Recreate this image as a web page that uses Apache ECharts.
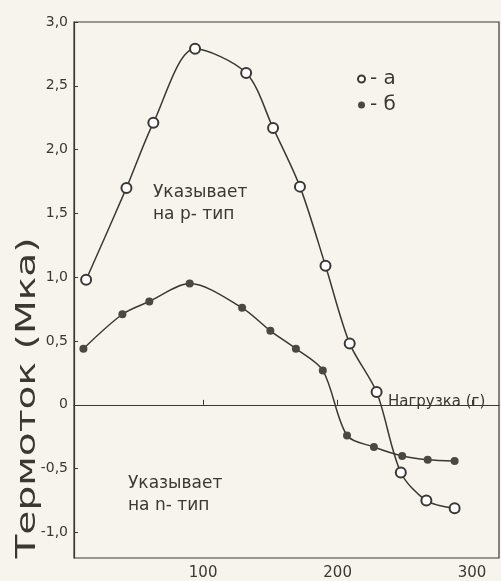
<!DOCTYPE html>
<html><head><meta charset="utf-8">
<script src="https://cdn.jsdelivr.net/npm/echarts@6/dist/echarts.min.js"></script>
<style>html,body{margin:0;padding:0;background:#f6f4ec;}#c{width:501px;height:581px;}</style>
</head><body><div id="c"></div>
<script>
// Series a (open circles): load (g), thermocurrent (μA)
const loadA = [13, 43, 63, 94, 132, 152, 172, 191, 209, 229, 247, 266, 287];
const currA = [0.98, 1.70, 2.21, 2.79, 2.60, 2.17, 1.71, 1.09, 0.48, 0.10, -0.53, -0.75, -0.81];
// Series б (filled circles)
const loadB = [11, 40, 60, 90, 129, 150, 169, 189, 207, 227, 248, 267, 287];
const currB = [0.44, 0.71, 0.81, 0.95, 0.76, 0.58, 0.44, 0.27, -0.24, -0.33, -0.40, -0.43, -0.44];
const yTicks = [-1.0, -0.5, 0, 0.5, 1.0, 1.5, 2.0, 2.5, 3.0];
const xTicks = [100, 200, 300];
const seriesNames = ['а', 'б'];

const ink = '#3a3833';
const font = 'DejaVu Sans';
const chart = echarts.init(document.getElementById('c'));
const fmtY = v => v === 0 ? '0' : v.toFixed(1).replace('.', ',');
chart.setOption({
  backgroundColor: '#f6f4ec',
  animation: false,
  grid: {left: 74, top: 22, right: 2, bottom: 4, show: true, borderColor: ink, borderWidth: 1.2},
  legend: {
    orient: 'vertical', left: 352, top: 64, itemGap: 6, itemWidth: 7, itemHeight: 7,
    data: [{name: seriesNames[0], icon: 'emptyCircle'}, {name: seriesNames[1], icon: 'circle'}],
    formatter: n => '- ' + n,
    textStyle: {fontFamily: font, fontSize: 20, color: ink}
  },
  xAxis: {
    type: 'value', min: 4, max: 320,
    axisLine: {onZero: true, lineStyle: {color: ink, width: 1}},
    axisTick: {show: true, inside: true, length: 5, customValues: xTicks, lineStyle: {color: ink}},
    axisLabel: {customValues: xTicks, fontFamily: font, fontSize: 15, color: ink, margin: 8},
    splitLine: {show: false}
  },
  yAxis: {
    type: 'value', min: -1.2, max: 3.0,
    axisLine: {show: true, onZero: false, lineStyle: {color: ink, width: 1.2}},
    axisTick: {show: true, inside: true, length: 4, customValues: yTicks, lineStyle: {color: ink}},
    axisLabel: {customValues: yTicks, formatter: fmtY, fontFamily: font, fontSize: 14, color: ink, margin: 6},
    splitLine: {show: false}
  },
  series: [
    {name: seriesNames[0], type: 'line', smooth: 0.3, data: loadA.map((x, i) => [x, currA[i]]),
     symbol: 'emptyCircle', symbolSize: 10, lineStyle: {color: ink, width: 1.5},
     itemStyle: {color: ink, borderColor: ink, borderWidth: 1.2}},
    {name: seriesNames[1], type: 'line', smooth: 0.3, data: loadB.map((x, i) => [x, currB[i]]),
     symbol: 'circle', symbolSize: 8, lineStyle: {color: ink, width: 1.5},
     itemStyle: {color: '#4a4843'}}
  ],
  graphic: [
    {type: 'text', x: 28, y: 398, rotation: Math.PI / 2, scaleX: 1.45,
     style: {text: 'Термоток (Мка)', fontFamily: font, fontSize: 27, fill: ink, textAlign: 'center', textVerticalAlign: 'middle'}},
    {type: 'text', x: 153, y: 182, style: {text: 'Указывает\nна р- тип', fontFamily: font, fontSize: 17, lineHeight: 22, fill: ink}},
    {type: 'text', x: 128, y: 473, style: {text: 'Указывает\nна n- тип', fontFamily: font, fontSize: 17, lineHeight: 22, fill: ink}},
    {type: 'text', x: 388, y: 395, style: {text: 'Нагрузка (г)', fontFamily: font, fontSize: 15, fill: ink}}
  ]
});
</script></body></html>
